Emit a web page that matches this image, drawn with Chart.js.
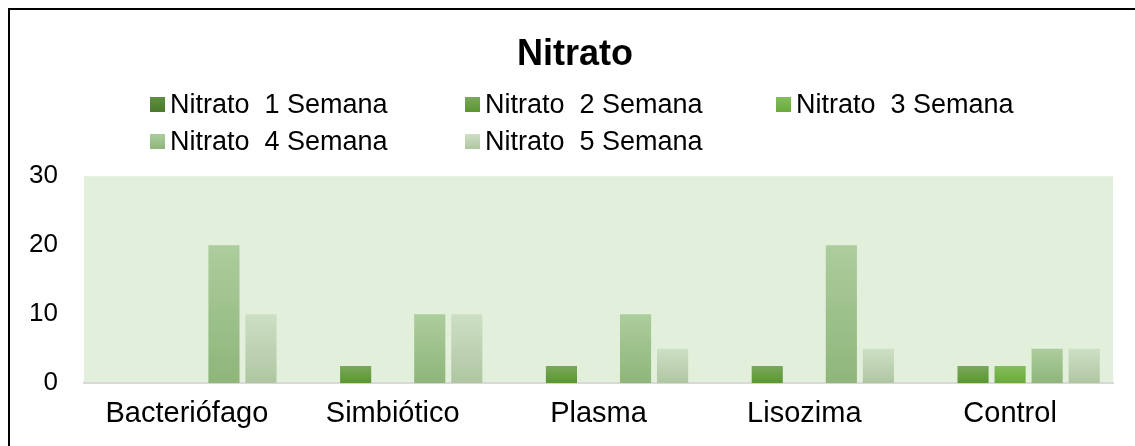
<!DOCTYPE html>
<html>
<head>
<meta charset="utf-8">
<script src="https://cdn.jsdelivr.net/npm/chart.js@4.4.0/dist/chart.umd.min.js"></script>
<style>
  html, body { margin: 0; padding: 0; background: #fff; }
  #wrap { position: relative; width: 1135px; height: 446px; overflow: hidden; font-family: "Liberation Sans", Arial, sans-serif; }
  #frame { position: absolute; left: 8px; top: 8px; width: 1140px; height: 450px; border-left: 2px solid #000; border-top: 2px solid #000; pointer-events: none; }
  #legend { position: absolute; left: 150px; top: 87px; display: grid; grid-template-columns: 315px 311px 311px; row-gap: 3px; }
  #legend .item { display: flex; align-items: center; height: 34px; font-size: 27px; color: #000; white-space: pre; }
  #legend .sw { width: 15px; height: 15px; margin-right: 5px; }
</style>
</head>
<body>
<div id="wrap">
  <canvas id="chart" width="1135" height="446"></canvas>
  <div id="legend"></div>
  <div id="frame"></div>
</div>
<script>
const categories = ["Bacteriófago", "Simbiótico", "Plasma", "Lisozima", "Control"];
const seriesLabels = ["Nitrato  1 Semana", "Nitrato  2 Semana", "Nitrato  3 Semana", "Nitrato  4 Semana", "Nitrato  5 Semana"];
const semana1 = [0, 0, 0, 0, 0];
const semana2 = [0, 2.5, 2.5, 2.5, 2.5];
const semana3 = [0, 0, 0, 0, 2.5];
const semana4 = [20, 10, 10, 20, 5];
const semana5 = [10, 10, 5, 5, 5];
const yTicks = [0, 10, 20, 30];

// top / bottom colour of each bar gradient
const shades = [
  ["#5f8f40", "#4c7a2c"],
  ["#7aa85b", "#5a9630"],
  ["#84bd5c", "#68aa3b"],
  ["#accd9d", "#8fb57a"],
  ["#cddfc5", "#afc6a2"]
];

function barFill(i) {
  return (ctx) => {
    const chart = ctx.chart;
    if (!chart.chartArea || ctx.type !== "data") return shades[i][1];
    const y = chart.scales.y;
    const top = y.getPixelForValue(ctx.raw);
    const base = y.getPixelForValue(0);
    if (base - top < 1) return shades[i][1];
    const g = chart.ctx.createLinearGradient(0, top, 0, base);
    g.addColorStop(0, shades[i][0]);
    g.addColorStop(1, shades[i][1]);
    return g;
  };
}

const plotBg = {
  id: "plotBg",
  beforeDraw(chart) {
    const { ctx, chartArea: a } = chart;
    ctx.save();
    ctx.fillStyle = "#e2efda";
    ctx.fillRect(a.left, a.top, a.right - a.left, a.bottom - a.top);
    ctx.restore();
  }
};

// the title is centred on the framed box, not on the plot
const titleShift = {
  id: "titleShift",
  afterLayout(chart) {
    if (chart.titleBlock) chart.titleBlock.left = 37;
  }
};

const htmlLegend = {
  id: "htmlLegend",
  afterUpdate(chart) {
    const box = document.getElementById("legend");
    box.innerHTML = "";
    chart.data.datasets.forEach((ds, i) => {
      const item = document.createElement("div");
      item.className = "item";
      const sw = document.createElement("span");
      sw.className = "sw";
      sw.style.background = "linear-gradient(" + shades[i][0] + ", " + shades[i][1] + ")";
      item.appendChild(sw);
      item.appendChild(document.createTextNode(ds.label));
      box.appendChild(item);
    });
  }
};

const allSeries = [semana1, semana2, semana3, semana4, semana5];

new Chart(document.getElementById("chart"), {
  type: "bar",
  data: {
    labels: categories,
    datasets: allSeries.map((vals, i) => ({
      label: seriesLabels[i],
      data: vals,
      backgroundColor: barFill(i),
      borderWidth: 0,
      categoryPercentage: 0.9,
      barPercentage: 0.84
    }))
  },
  options: {
    responsive: false,
    animation: false,
    layout: { padding: { left: 0, right: 22, top: 0, bottom: 2 } },
    plugins: {
      legend: { display: false },
      tooltip: { enabled: false },
      title: {
        display: true,
        text: "Nitrato",
        color: "#000",
        font: { family: "Liberation Sans", size: 36, weight: "bold" },
        padding: { top: 33, bottom: 100 }
      }
    },
    scales: {
      x: {
        grid: { display: false, drawTicks: false },
        border: { display: true, color: "#d9d9d9", width: 2 },
        ticks: { color: "#000", padding: 13, font: { family: "Liberation Sans", size: 29 } }
      },
      y: {
        min: 0,
        max: 30,
        afterFit(scale) { scale.width = 84; },
        afterBuildTicks(scale) { scale.ticks = yTicks.map(v => ({ value: v })); },
        grid: { display: false, drawTicks: false },
        border: { display: false },
        ticks: { color: "#000", padding: 26, font: { family: "Liberation Sans", size: 26 } }
      }
    }
  },
  plugins: [plotBg, titleShift, htmlLegend]
});
</script>
</body>
</html>
